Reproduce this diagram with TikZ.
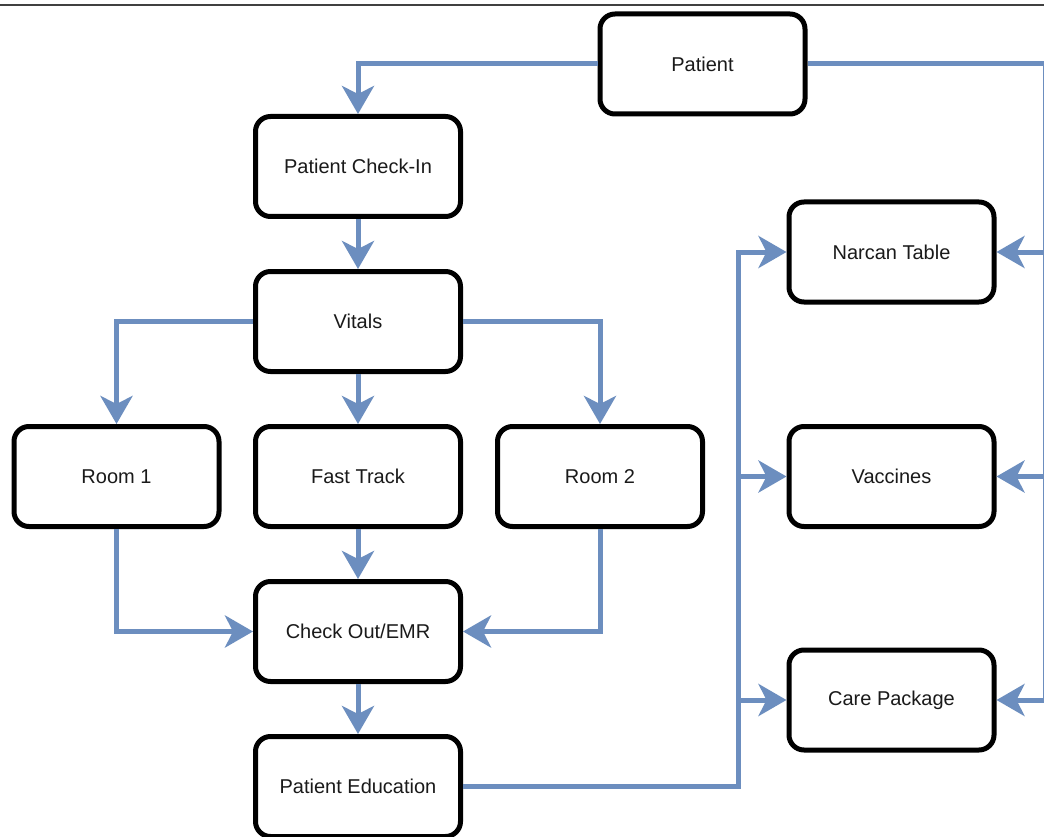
\documentclass[tikz,border=0pt]{standalone}
\usepackage{fontspec}
\setmainfont{Liberation Sans}
\usetikzlibrary{arrows.meta}
\definecolor{conncol}{HTML}{6C8EBF}
\definecolor{txtcol}{HTML}{1A1A1A}
\tikzset{
  box/.style={draw=black, line width=5pt, rounded corners=15pt, fill=white,
    minimum width=205pt, minimum height=100pt, inner sep=0pt,
    font=\fontsize{20}{24}\selectfont, text=txtcol},
  conn/.style={draw=conncol, line width=5pt},
  arr/.style={conn, -{Stealth[length=28pt,width=32pt,inset=8pt]}}
}
\begin{document}
\begin{tikzpicture}[x=1pt,y=-1pt]
\useasboundingbox (0,0) rectangle (1044,837);
\clip (0,0) rectangle (1044,837);
\fill[white] (0,0) rectangle (1044,837);
\draw[line width=1.5pt, color=black!75] (0,5) -- (1044,5);

\node[box] (patient)  at (702.5,64)   {Patient};
\node[box] (checkin)  at (358,166.5)  {Patient Check-In};
\node[box] (vitals)   at (358,321.5)  {Vitals};
\node[box] (room1)    at (116.5,476.5){Room 1};
\node[box] (fast)     at (358,476.5)  {Fast Track};
\node[box] (room2)    at (600,476.5)  {Room 2};
\node[box] (checkout) at (358,631.5)  {Check Out/EMR};
\node[box] (edu)      at (358,786.5)  {Patient Education};
\node[box] (narcan)   at (891.5,252)  {Narcan Table};
\node[box] (vacc)     at (891.5,476.5){Vaccines};
\node[box] (care)     at (891.5,700)  {Care Package};

\coordinate (rtop) at (1045.5,64);
\coordinate (rbot) at (1045.5,700);
\coordinate (lbus) at (738,786.5);

% Patient to check-in
\draw[arr] (patient.west) -| (checkin.north);
% Patient to right bus
\draw[conn] (patient.east) -- (rtop) -- (rbot);
\draw[arr] (rtop |- narcan.east) -- (narcan.east);
\draw[arr] (rtop |- vacc.east) -- (vacc.east);
\draw[arr] (rbot) -- (care.east);

% main flow
\draw[arr] (checkin.south) -- (vitals.north);
\draw[arr] (vitals.west) -| (room1.north);
\draw[arr] (vitals.south) -- (fast.north);
\draw[arr] (vitals.east) -| (room2.north);
\draw[arr] (room1.south) |- (checkout.west);
\draw[arr] (fast.south) -- (checkout.north);
\draw[arr] (room2.south) |- (checkout.east);
\draw[arr] (checkout.south) -- (edu.north);

% education to left bus
\draw[arr] (edu.east) -- (lbus) |- (narcan.west);
\draw[arr] (lbus |- vacc.west) -- (vacc.west);
\draw[arr] (lbus |- care.west) -- (care.west);
\end{tikzpicture}
\end{document}
